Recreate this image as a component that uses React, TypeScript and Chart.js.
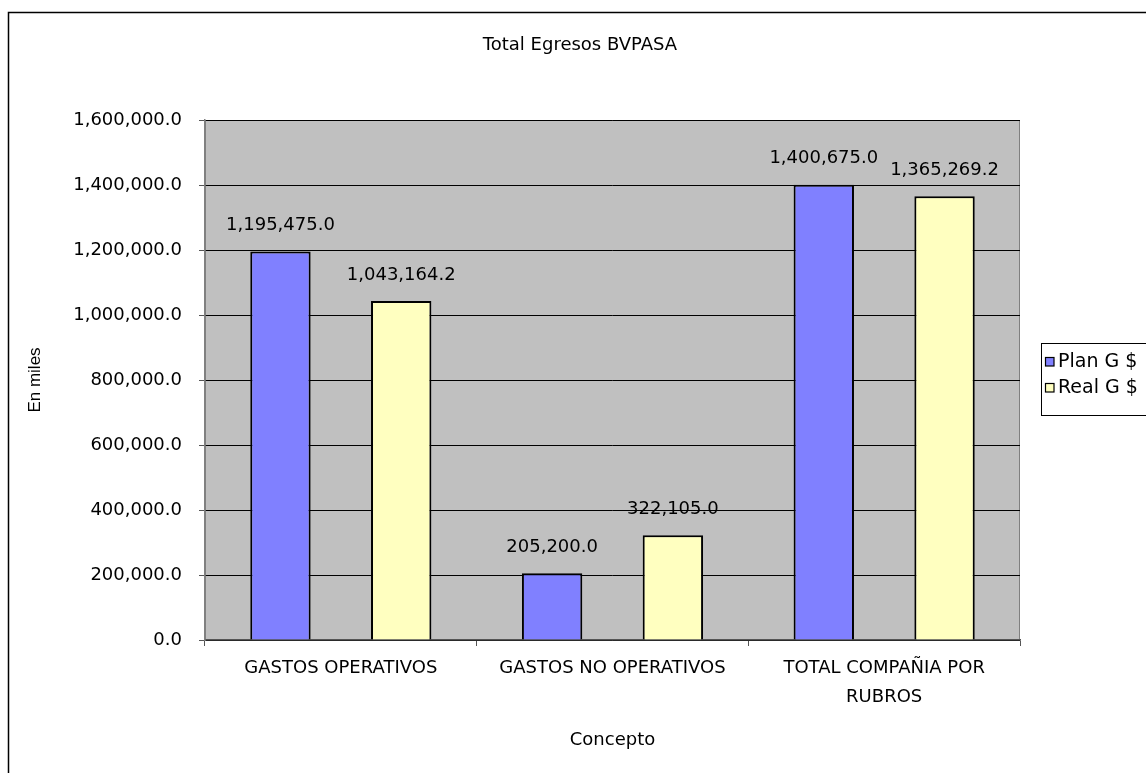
import React, { useEffect, useRef } from "react";
import { Chart, registerables } from "chart.js";

Chart.register(...registerables);

const chartTitle = "Total Egresos BVPASA";
const categories: (string | string[])[] = [
  "GASTOS OPERATIVOS",
  "GASTOS NO OPERATIVOS",
  ["TOTAL COMPAÑIA POR", "RUBROS"],
];
const planValues = [1195475.0, 205200.0, 1400675.0];
const realValues = [1043164.2, 322105.0, 1365269.2];
const seriesNames = ["Plan G $", "Real G $"];
const yTitle = "En miles";
const xTitle = "Concepto";
const yMin = 0;
const yMax = 1600000;
const yStep = 200000;

const FONT = "'DejaVu Sans', 'Liberation Sans', Arial, sans-serif";
const NARROW = "'Liberation Sans Narrow', 'Liberation Sans', Arial, sans-serif";
const fmt = (v: number) =>
  v.toLocaleString("en-US", { minimumFractionDigits: 1, maximumFractionDigits: 1 });

export default function App() {
  const ref = useRef<HTMLCanvasElement | null>(null);

  useEffect(() => {
    if (!ref.current) return;
    document.body.style.margin = "0";

    const decor = {
      id: "decor",
      beforeDraw(chart: any) {
        const { ctx, chartArea } = chart;
        ctx.save();
        ctx.fillStyle = "#ffffff";
        ctx.fillRect(0, 0, chart.width, chart.height);
        ctx.fillStyle = "#c0c0c0";
        ctx.fillRect(chartArea.left, chartArea.top, chartArea.right - chartArea.left, chartArea.bottom - chartArea.top);
        ctx.strokeStyle = "#808080";
        ctx.lineWidth = 1;
        ctx.strokeRect(chartArea.left + 0.5, chartArea.top + 0.5, chartArea.right - chartArea.left - 1, chartArea.bottom - chartArea.top);
        ctx.restore();
      },
      afterDatasetsDraw(chart: any) {
        const { ctx } = chart;
        ctx.save();
        ctx.font = `18px ${FONT}`;
        ctx.fillStyle = "#000";
        ctx.textAlign = "center";
        ctx.textBaseline = "middle";
        chart.data.datasets.forEach((ds: any, di: number) => {
          const meta = chart.getDatasetMeta(di);
          meta.data.forEach((bar: any, i: number) => {
            ctx.fillText(fmt(ds.data[i]), bar.x, bar.y - 26);
          });
        });
        ctx.restore();
      },
      afterDraw(chart: any) {
        const { ctx } = chart;
        ctx.save();
        // title
        ctx.font = `18px ${FONT}`;
        ctx.fillStyle = "#000";
        ctx.textAlign = "center";
        ctx.textBaseline = "middle";
        ctx.fillText(chartTitle, 580, 45);
        // legend
        ctx.fillStyle = "#fff";
        ctx.fillRect(1041, 343, 140, 72);
        ctx.strokeStyle = "#000";
        ctx.lineWidth = 1;
        ctx.strokeRect(1041.5, 343.5, 140, 72);
        ctx.font = `19px ${FONT}`;
        ctx.textAlign = "left";
        chart.data.datasets.forEach((ds: any, di: number) => {
          const cy = 361.5 + di * 26;
          ctx.fillStyle = ds.backgroundColor;
          ctx.fillRect(1045, cy - 4.5, 9, 9);
          ctx.strokeStyle = "#000";
          ctx.lineWidth = 1.2;
          ctx.strokeRect(1045.5, cy - 4, 8.5, 8.5);
          ctx.fillStyle = "#000";
          ctx.fillText(ds.label, 1058, cy + 1);
        });
        // outer border
        ctx.strokeStyle = "#000";
        ctx.lineWidth = 1.5;
        ctx.strokeRect(8.5, 12.5, 1200, 800);
        ctx.restore();
      },
    };

    const chart = new Chart(ref.current, {
      type: "bar",
      data: {
        labels: categories,
        datasets: [
          {
            label: seriesNames[0],
            data: planValues,
            backgroundColor: "#8080ff",
            borderColor: "#000000",
            borderWidth: 2,
            categoryPercentage: 0.889,
            barPercentage: 0.5,
          },
          {
            label: seriesNames[1],
            data: realValues,
            backgroundColor: "#ffffc0",
            borderColor: "#000000",
            borderWidth: 2,
            categoryPercentage: 0.889,
            barPercentage: 0.5,
          },
        ],
      },
      options: {
        animation: false,
        responsive: false,
        devicePixelRatio: 1,
        layout: { padding: { left: 10, right: 126, top: 120, bottom: 0 } },
        plugins: {
          legend: { display: false },
          title: { display: false },
          tooltip: { enabled: false },
        },
        scales: {
          x: {
            afterFit: (s: any) => {
              s.height = 133;
            },
            grid: {
              drawOnChartArea: false,
              drawTicks: true,
              tickLength: 6,
              tickColor: "#555555",
            },
            border: { color: "#555555", width: 1.5 },
            ticks: {
              color: "#000",
              padding: 7,
              maxRotation: 0,
              autoSkip: false,
              font: { family: FONT, size: 18, lineHeight: 1.65 },
            },
            title: {
              display: true,
              text: xTitle,
              color: "#000",
              font: { family: FONT, size: 18, lineHeight: 1.2 },
              padding: { top: 0, bottom: 22 },
            },
          },
          y: {
            min: yMin,
            max: yMax,
            afterFit: (s: any) => {
              s.width = 195;
            },
            grid: {
              color: "#000000",
              lineWidth: 1,
              drawTicks: true,
              tickLength: 6,
              tickColor: "#555555",
            },
            border: { color: "#808080", width: 1.5 },
            ticks: {
              stepSize: yStep,
              color: "#000",
              padding: 17,
              font: { family: FONT, size: 18 },
              callback: (v: any) => fmt(Number(v)),
            },
            title: {
              display: true,
              text: yTitle,
              color: "#000",
              font: { family: NARROW, size: 17, lineHeight: 1.2 },
              padding: { top: 15, bottom: 0 },
            },
          },
        },
      },
      plugins: [decor],
    });

    return () => chart.destroy();
  }, []);

  return (
    <div style={{ position: "absolute", left: 0, top: 0, width: 1146, height: 773 }}>
      <canvas ref={ref} width={1146} height={773} style={{ display: "block" }} />
    </div>
  );
}
